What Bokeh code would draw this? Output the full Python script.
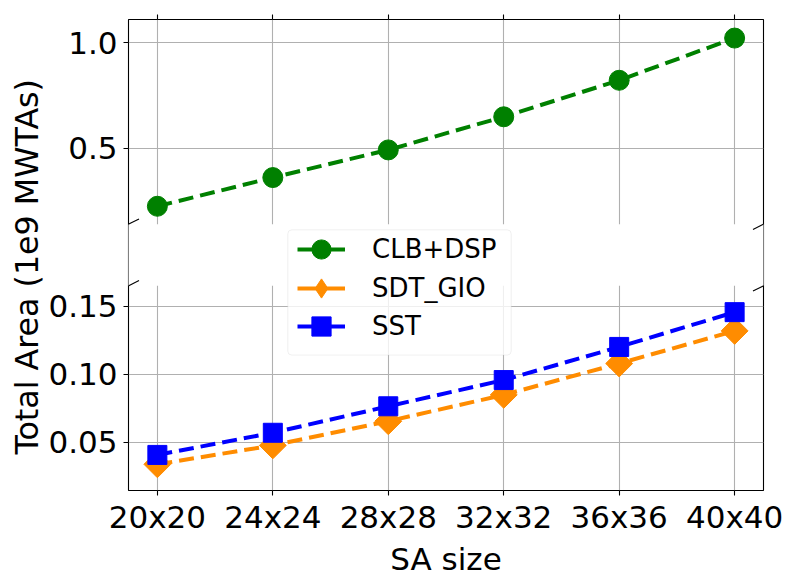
import numpy as np
from bokeh.plotting import figure
from bokeh.models import (Range1d, LinearAxis, FixedTicker, BoxAnnotation, Legend,
                          LegendItem, Arrow, Title)
from bokeh.embed import file_html
from bokeh.resources import INLINE

# ---------------- data ----------------
sizes = ["20x20", "24x24", "28x28", "32x32", "36x36", "40x40"]
clb_dsp = [0.225, 0.361, 0.492, 0.649, 0.822, 1.022]
sdt_gio = [0.0336, 0.0475, 0.0653, 0.0847, 0.1078, 0.1318]
sst = [0.0405, 0.0568, 0.0763, 0.0956, 0.1200, 0.1456]
series_names = ["CLB+DSP", "SDT_GIO", "SST"]

top_ticks = [0.5, 1.0]
top_tick_labels = ["0.5", "1.0"]
bottom_ticks = [0.05, 0.10, 0.15]
bottom_tick_labels = ["0.05", "0.10", "0.15"]
top_lim = (0.14, 1.11)
bottom_lim = (0.0143, 0.165)

# ---------------- layout ----------------
FONT = "DejaVu Sans"
BL, BR, BT, BB = 128, 27, 19, 86
FRAME_W = 635
PANEL_H = 206
GAP = 62
FRAME_H = 2 * PANEL_H + GAP
W = BL + FRAME_W + BR
H = BT + FRAME_H + BB

x = list(range(len(sizes)))
x_lo, x_hi = -0.25, len(sizes) - 0.75

b0 = bottom_lim[0]
b_hi = b0 + (bottom_lim[1] - b0) * FRAME_H / PANEL_H
t_hi = top_lim[1]
t_lo = t_hi - (t_hi - top_lim[0]) * FRAME_H / PANEL_H
px_x = (x_hi - x_lo) / FRAME_W
px_y = (b_hi - b0) / FRAME_H


def top_to_main(v):
    return b0 + (v - t_lo) / (t_hi - t_lo) * (b_hi - b0)


def sx(px):  # page x pixel -> data x (for annotation placement)
    return x_lo + (px - BL) * px_x


def sy(py):  # page y pixel -> data y (main range)
    return b0 + (BT + FRAME_H - py) * px_y


p = figure(width=W, height=H, output_backend="svg", toolbar_location=None,
           x_range=Range1d(x_lo, x_hi), y_range=Range1d(b0, b_hi),
           min_border_left=BL, min_border_right=BR, min_border_top=BT,
           min_border_bottom=BB)
p.extra_y_ranges = {"top": Range1d(t_lo, t_hi)}
p.background_fill_color = "white"
p.border_fill_color = "white"
p.outline_line_color = "black"
p.outline_line_width = 1.1

# grids
left_ticks = bottom_ticks + [top_to_main(v) for v in top_ticks]
left_labels = bottom_tick_labels + top_tick_labels
p.xgrid.ticker = FixedTicker(ticks=x)
p.ygrid.ticker = FixedTicker(ticks=left_ticks)
for g in (p.xgrid, p.ygrid):
    g.grid_line_color = "#b0b0b0"
    g.grid_line_width = 1.1

# axes
xa = p.xaxis[0]
xa.ticker = FixedTicker(ticks=x)
xa.major_label_overrides = {i: s for i, s in zip(x, sizes)}
xa.axis_label = "SA size"
xa.axis_label_standoff = 3
xa.major_label_standoff = 3

ya = p.yaxis[0]
ya.ticker = FixedTicker(ticks=left_ticks)
ya.major_label_overrides = {t: s for t, s in zip(left_ticks, left_labels)}
ya.major_label_standoff = 6

top_axis = LinearAxis(ticker=FixedTicker(ticks=x),
                      major_label_overrides={i: "" for i in x})
p.add_layout(top_axis, "above")

for ax in (xa, ya, top_axis):
    ax.axis_line_color = None
    ax.major_tick_out = 5
    ax.major_tick_in = 0
    ax.major_tick_line_color = "black"
    ax.major_tick_line_width = 1.1
    ax.minor_tick_line_color = None
    ax.major_label_text_font = FONT
    ax.major_label_text_font_size = "31px"
    ax.major_label_text_color = "black"
    ax.axis_label_text_font = FONT
    ax.axis_label_text_font_size = "31px"
    ax.axis_label_text_font_style = "normal"
    ax.axis_label_text_color = "black"
top_axis.major_label_text_font_size = "1px"
top_axis.major_label_standoff = 0

# y label shared by both panels (starts 36 px above the frame bottom)
p.add_layout(Title(text="Total Area (1e9 MWTAs)", align="left", offset=36,
                   standoff=2, text_font=FONT, text_font_size="31.7px",
                   text_font_style="normal", text_color="black"), "left")

# ---------------- series ----------------
GREEN, ORANGE, BLUE = "#008000", "#ff8c00", "#0000ff"
DASH = "15 7"
LW = 4

l1 = p.line(x, clb_dsp, y_range_name="top", line_color=GREEN, line_width=LW, line_dash=DASH)
m1 = p.scatter(x, clb_dsp, y_range_name="top", marker="circle", size=20,
               fill_color=GREEN, line_color=GREEN)
l2 = p.line(x, sdt_gio, line_color=ORANGE, line_width=LW, line_dash=DASH)
m2 = p.scatter(x, sdt_gio, marker="square", angle=np.pi / 4, size=19,
               fill_color=ORANGE, line_color=ORANGE)
l3 = p.line(x, sst, line_color=BLUE, line_width=LW, line_dash=DASH)
m3 = p.scatter(x, sst, marker="square", size=19, fill_color=BLUE, line_color=BLUE)

# legend-only handles (a single NaN point: nothing is drawn in the plot)
nan = [np.nan]
h1 = p.line(nan, nan, line_color=GREEN, line_width=LW)
h2 = p.line(nan, nan, line_color=ORANGE, line_width=LW)
h3 = p.line(nan, nan, line_color=BLUE, line_width=LW)
d2 = p.scatter(nan, nan, marker="diamond", fill_color=ORANGE, line_color=ORANGE)

# ---------------- broken-axis gap ----------------
gap_bottom = bottom_lim[1]
gap_top = top_to_main(top_lim[0])
p.add_layout(BoxAnnotation(left=x_lo - 20 * px_x, right=x_hi + 20 * px_x,
                           bottom=gap_bottom, top=gap_top,
                           fill_color="white", fill_alpha=1.0, line_color=None))
for xe in (x_lo, x_hi):
    for ye in (gap_bottom, gap_top):
        p.add_layout(Arrow(start=None, end=None,
                           x_start=xe - 10.5 * px_x, y_start=ye - 5.3 * px_y,
                           x_end=xe + 10.5 * px_x, y_end=ye + 5.3 * px_y,
                           line_color="black", line_width=1.1))

# ---------------- legend ----------------
LEG_L, LEG_R, LEG_T, LEG_B = 287.3, 510.7, 230.7, 356.7
p.add_layout(BoxAnnotation(left=sx(LEG_L), right=sx(LEG_R), top=sy(LEG_T), bottom=sy(LEG_B),
                           fill_color="white", fill_alpha=0.8,
                           line_color="#cccccc", line_width=1, border_radius=4))
ROW0, ROW_STEP, GLYPH = 252.3, 38.3, 48
handles = [[h1, m1], [h2, d2], [h3, m3]]
for i, (name, rends) in enumerate(zip(series_names, handles)):
    cy = ROW0 + i * ROW_STEP
    leg = Legend(items=[LegendItem(label=name, renderers=rends)],
                 location=(int(round(LEG_L + 10 - BL)), int(round(BT + FRAME_H - cy - GLYPH / 2))),
                 label_text_font=FONT, label_text_font_size="26px",
                 label_text_color="black",
                 glyph_width=GLYPH, glyph_height=GLYPH, label_height=GLYPH,
                 spacing=0, padding=0, label_standoff=27, margin=0,
                 border_line_color=None, background_fill_alpha=0)
    p.add_layout(leg, "center")

open("out.html", "w").write(file_html(p, INLINE))
